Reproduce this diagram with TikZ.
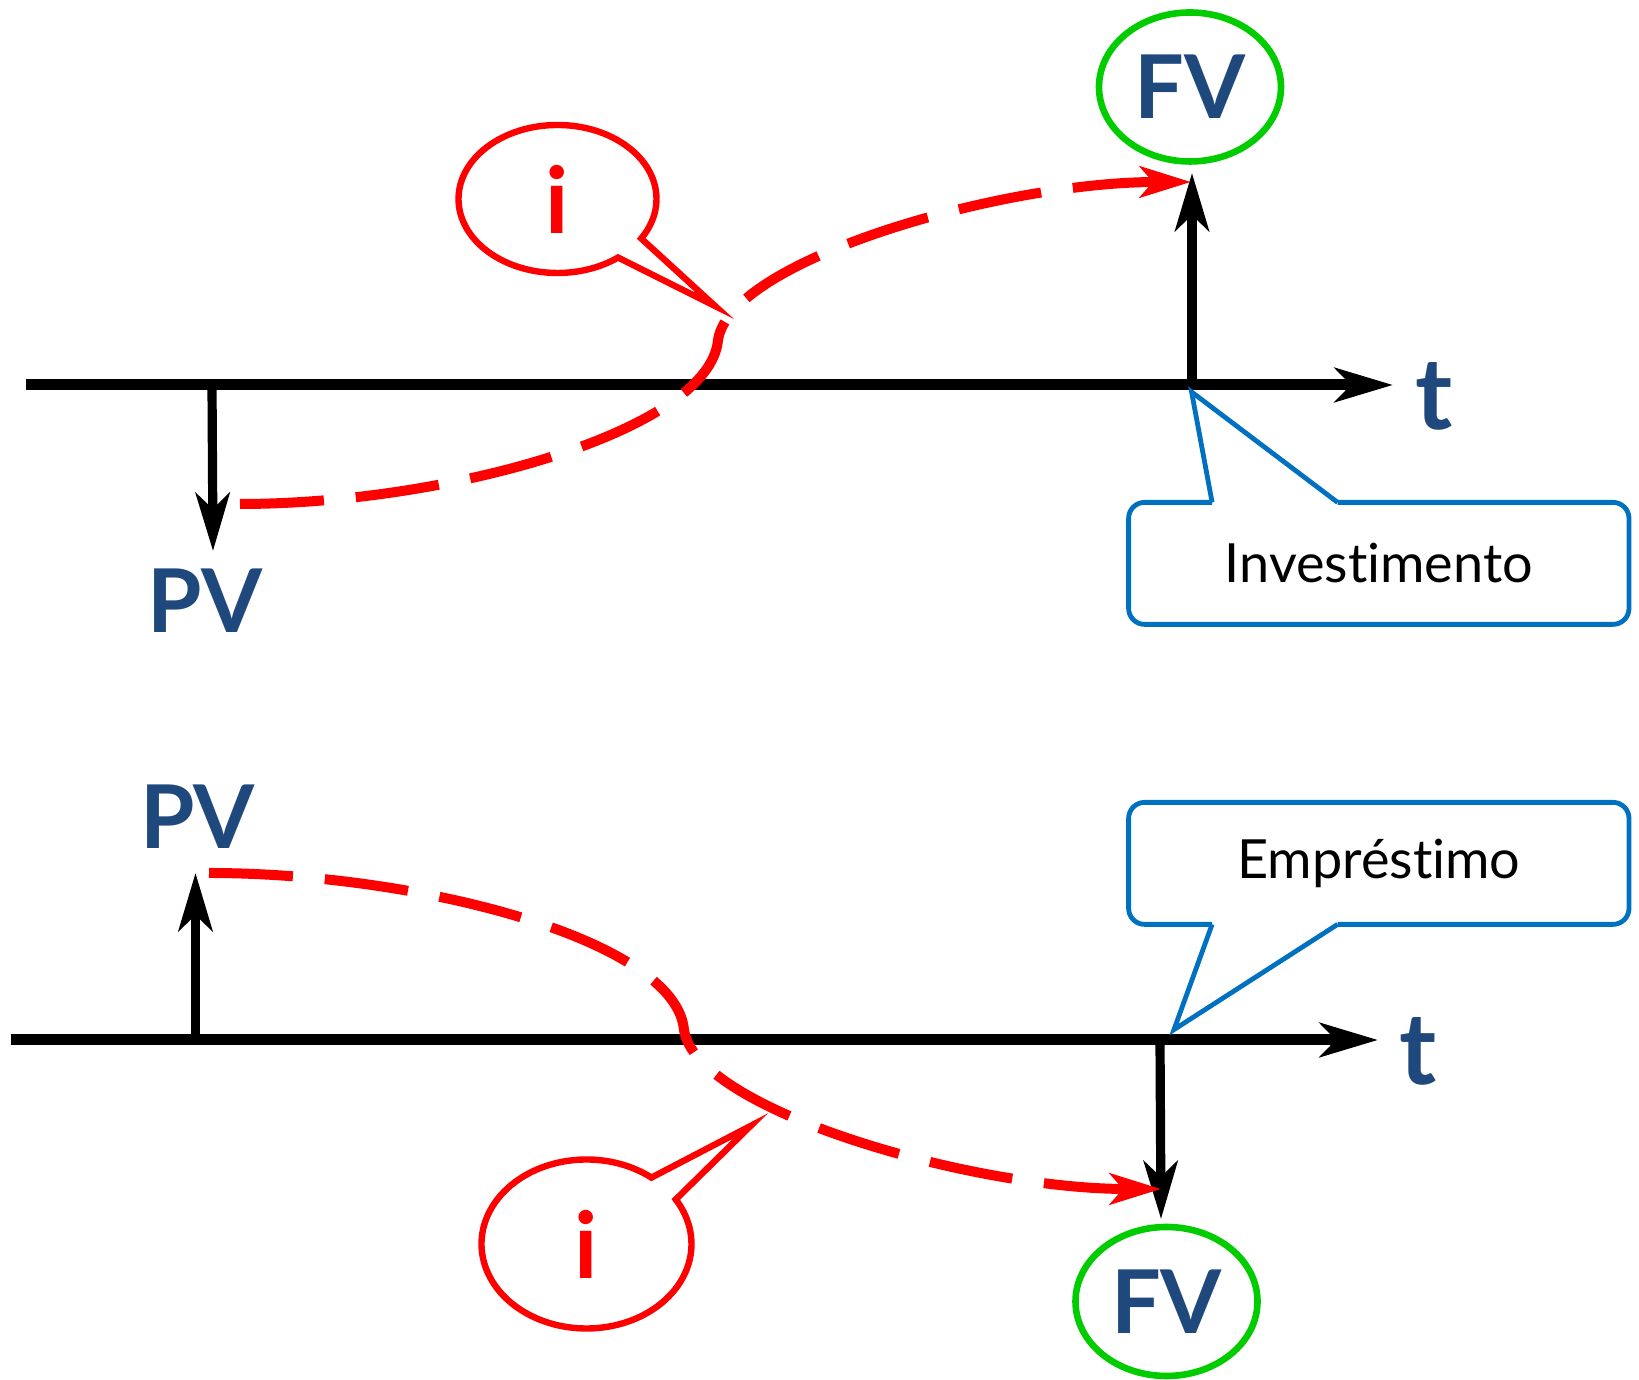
\documentclass[tikz,border=0pt]{standalone}
\usepackage{fontspec}
\setmainfont{Lato}[Ligatures=NoCommon]
\usetikzlibrary{arrows.meta, shapes.geometric, shapes.callouts, calc}
\definecolor{pvblue}{RGB}{31,73,125}
\definecolor{fvgreen}{RGB}{0,204,0}
\definecolor{notered}{RGB}{255,0,0}
\definecolor{noteblue}{RGB}{0,112,192}
\tikzset{
  axisline/.style={line width=5.5pt, -{Stealth[length=29pt, width=17pt, inset=8pt]}},
  flow/.style={line width=4.6pt, -{Stealth[length=29pt, width=17pt, inset=8pt]}},
  rate/.style={notered, line width=5pt, dash pattern=on 42pt off 16pt,
    -{Stealth[length=25.5pt, width=15.5pt, inset=6.5pt]}},
  value/.style={text=pvblue, font=\fontsize{44}{50}\selectfont\bfseries},
  fvring/.style={ellipse, draw=fvgreen, line width=3.3pt, minimum width=91pt,
    minimum height=74.5pt, inner sep=0pt},
  ibubble/.style={ellipse callout, draw=notered, line width=3.2pt, text=notered,
    font=\fontsize{46}{50}\selectfont\bfseries, inner sep=0pt, callout pointer arc=20},
  notebox/.style={draw=noteblue, line width=2.4pt},
  notetext/.style={minimum width=249.8pt, minimum height=60.6pt, inner sep=0pt,
    font=\fontsize{27}{30}\selectfont},
}
\begin{document}
\begin{tikzpicture}[x=0.5pt, y=0.5pt, line join=miter]
\useasboundingbox (0,0) rectangle (1639,1380);

% --- investimento ---
\coordinate (axAs) at (26,995);
\coordinate (axAe) at (1393,995);
\draw[axisline] (axAs) -- (axAe);
\node[value, font=\fontsize{50}{54}\selectfont\bfseries, anchor=base] (tA) at (1434,950) {t};

\coordinate (pvA) at (212,995);
\coordinate (pvAtip) at (213,829);
\draw[flow] (pvA) -- (pvAtip);
\node[value, anchor=base] (pvAlbl) at (205,747) {PV};

\coordinate (fvA) at (1192,995);
\coordinate (fvAtip) at (1192,1207);
\draw[flow] (fvA) -- (fvAtip);
\node[fvring, value] (fvAlbl) at (1190,1293) {FV};

\coordinate (rAs) at (240,876);
\coordinate (rAm) at (718,1040);
\coordinate (rAe) at (1191,1198);
\draw[rate] (rAs) .. controls +(210,0) and +(-8,-90) .. (rAm)
  .. controls +(12,80) and +(-190,0) .. (rAe);

\coordinate (iAtip) at (715,1074);
\node[ibubble, minimum width=99pt, minimum height=74pt,
  callout absolute pointer={(iAtip)}] (iA) at (557.5,1181) {i};

\node[notetext] (invA) at (1378.8,816.6) {Investimento};
\coordinate (invAtip) at (1191.6,988);
\draw[notebox, rounded corners=8pt] ($(invA.north west)+(209,0)$) -- (invA.north east)
  -- (invA.south east) -- (invA.south west) -- (invA.north west) -- ($(invA.north west)+(83.5,0)$);
\draw[notebox] ($(invA.north west)+(83.5,0)$) -- (invAtip) -- ($(invA.north west)+(209,0)$);

% --- emprestimo ---
\coordinate (axBs) at (10.5,340);
\coordinate (axBe) at (1378,340);
\draw[axisline] (axBs) -- (axBe);
\node[value, font=\fontsize{50}{54}\selectfont\bfseries, anchor=base] (tB) at (1418.5,295) {t};

\coordinate (pvB) at (195.5,340);
\coordinate (pvBtip) at (195.5,507);
\draw[flow] (pvB) -- (pvBtip);
\node[value, anchor=base] (pvBlbl) at (197.5,531) {PV};

\coordinate (fvB) at (1160,340);
\coordinate (fvBtip) at (1161,161);
\draw[flow] (fvB) -- (fvBtip);
\node[fvring, value] (fvBlbl) at (1166.5,78.5) {FV};

\coordinate (rBs) at (209,507);
\coordinate (rBm) at (684,350);
\coordinate (rBe) at (1161,191);
\draw[rate] (rBs) .. controls +(210,0) and +(-8,90) .. (rBm)
  .. controls +(12,-80) and +(-190,0) .. (rBe);

\coordinate (iBtip) at (750.5,254);
\node[ibubble, minimum width=105pt, minimum height=84.5pt,
  callout absolute pointer={(iBtip)}] (iB) at (586.5,136) {i};

\node[notetext] (empB) at (1378.8,516.6) {Empréstimo};
\coordinate (empBtip) at (1174,350.4);
\draw[notebox, rounded corners=8pt] ($(empB.south west)+(209,0)$) -- (empB.south east)
  -- (empB.north east) -- (empB.north west) -- (empB.south west) -- ($(empB.south west)+(83.5,0)$);
\draw[notebox] ($(empB.south west)+(83.5,0)$) -- (empBtip) -- ($(empB.south west)+(209,0)$);
\end{tikzpicture}
\end{document}
